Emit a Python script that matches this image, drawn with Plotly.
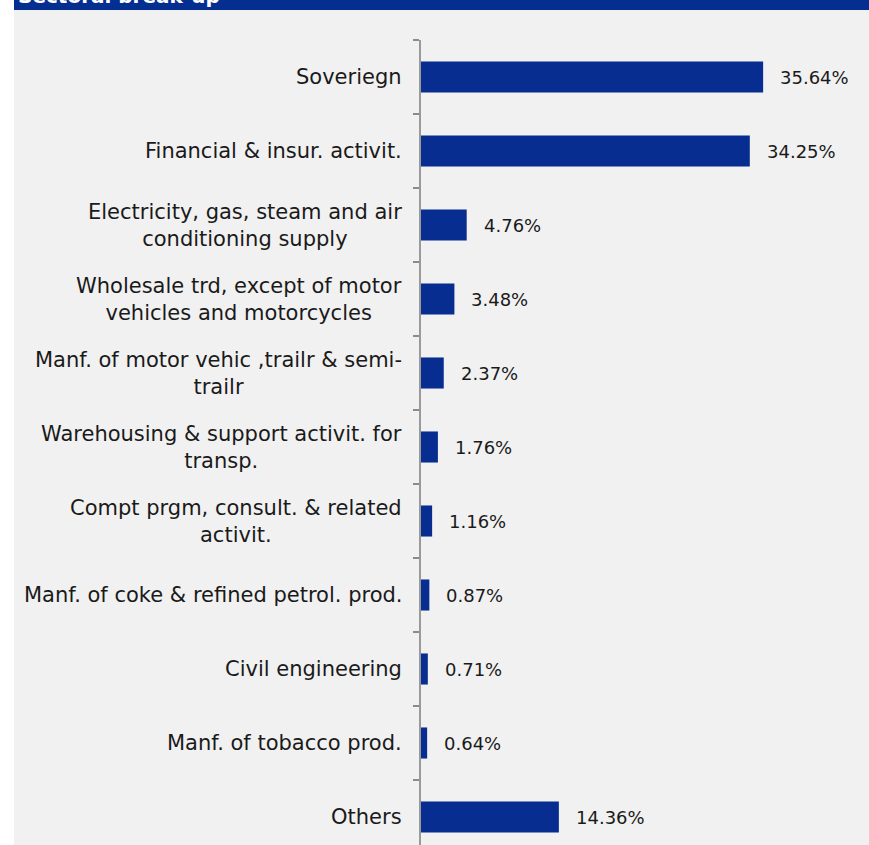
import plotly.graph_objects as go

# Sector labels (top to bottom) and their share of the credit book, in percent
sectors = [
    "Soveriegn",
    "Financial & insur. activit.",
    "Electricity, gas, steam and air<br>conditioning supply",
    "Wholesale trd, except of motor<br>vehicles and motorcycles",
    "Manf. of motor vehic ,trailr & semi-<br>trailr",
    "Warehousing & support activit. for<br>transp.",
    "Compt prgm, consult. & related<br>activit.",
    "Manf. of coke & refined petrol. prod.",
    "Civil engineering",
    "Manf. of tobacco prod.",
    "Others",
]
shares = [35.64, 34.25, 4.76, 3.48, 2.37, 1.76, 1.16, 0.87, 0.71, 0.64, 14.36]
title_text = "Sectoral break-up"

W, H = 869, 845
ML, MT = 421, 40
PW, PH = W - ML, H - MT

BAR = "#062d8f"
PANEL = "#f1f1f1"
FONT = "DejaVu Sans"
TXT = "#1a1a1a"
idx = list(range(len(sectors)))

fig = go.Figure()
fig.add_trace(go.Bar(
    x=shares,
    y=idx,
    orientation="h",
    width=0.42,
    marker=dict(color=BAR, line=dict(width=0)),
    hoverinfo="skip",
))

ann = []
# value labels to the right of each bar
for i, v in zip(idx, shares):
    ann.append(dict(
        x=v, y=i, xref="x", yref="y", text=f"{v:.2f}%",
        xanchor="left", yanchor="middle", xshift=15, showarrow=False,
        font=dict(family=FONT, size=18, color=TXT),
    ))
# category labels, lines centred within each label block
for i, s in zip(idx, sectors):
    ann.append(dict(
        x=0, y=i, xref="paper", yref="y", text=s, align="center",
        xanchor="right", yanchor="middle", xshift=-17, showarrow=False,
        font=dict(family=FONT, size=21, color=TXT),
    ))


def px_x(p):
    return (p - ML) / PW


def px_y(p):
    return 1 - (p - MT) / PH


# banner title, partly above the page edge
ann.append(dict(
    x=px_x(16), y=px_y(9.5), xref="paper", yref="paper", text=f"<b>{title_text}</b>",
    xanchor="left", yanchor="bottom", showarrow=False,
    font=dict(family=FONT, size=20, color="white"),
))

shapes = [
    # white strip at the left edge
    dict(type="rect", xref="paper", yref="paper", x0=px_x(0), x1=px_x(14),
         y0=px_y(H), y1=px_y(0), fillcolor="white", line=dict(width=0), layer="below"),
    # header band
    dict(type="rect", xref="paper", yref="paper", x0=px_x(14), x1=px_x(W),
         y0=px_y(10), y1=px_y(0), fillcolor="#042e90", line=dict(width=0), layer="below"),
]

fig.update_layout(
    width=W, height=H,
    margin=dict(l=ML, r=0, t=MT, b=0),
    paper_bgcolor=PANEL, plot_bgcolor=PANEL,
    showlegend=False,
    annotations=ann,
    shapes=shapes,
    xaxis=dict(range=[0, PW / 9.6], visible=False, fixedrange=True),
    yaxis=dict(
        range=[-0.5 + PH / 74.0, -0.5],
        showticklabels=False,
        tickmode="array",
        tickvals=[i - 0.5 for i in idx],
        ticks="outside", ticklen=6, tickcolor="#8c8c8c", tickwidth=1.5,
        showline=True, linecolor="#9a9a9a", linewidth=2,
        showgrid=False, zeroline=False, fixedrange=True,
    ),
)

fig.write_html("out.html")
